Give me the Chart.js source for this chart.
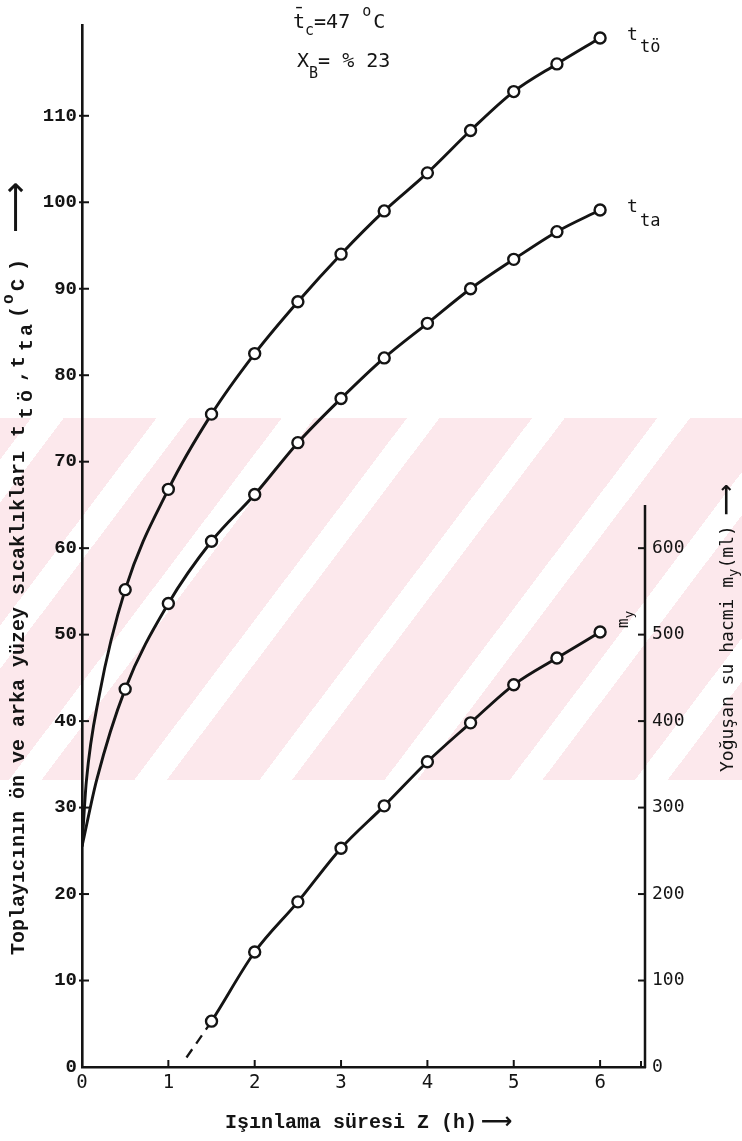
<!DOCTYPE html>
<html lang="tr">
<head>
<meta charset="utf-8">
<title>Toplayıcı yüzey sıcaklıkları ve yoğuşan su hacmi</title>
<script src="https://cdn.jsdelivr.net/npm/chart.js@4.4.1/dist/chart.umd.min.js"></script>
<style>
  html, body { margin: 0; padding: 0; background: #fff; }
  #wrap { position: relative; width: 742px; height: 1141px; overflow: hidden; }
  /* tez merkezi filigranı (soluk pembe şerit) */
  #filigran {
    position: absolute; left: 0; top: 418px; width: 742px; height: 362px;
    background: repeating-linear-gradient(127deg, #fce8ec 0 25px, #ffffff 25px 51px, #fce8ec 51px 100px);
  }
  #grafik { position: absolute; left: 0; top: 0; }
</style>
</head>
<body>
<div id="wrap">
  <div id="filigran"></div>
  <canvas id="grafik" width="742" height="1141"></canvas>
</div>
<script>
const saatler = [0.5, 1, 1.5, 2, 2.5, 3, 3.5, 4, 4.5, 5, 5.5, 6];
const tOn = [55.2, 66.8, 75.5, 82.5, 88.5, 94.0, 99.0, 103.4, 108.3, 112.8, 116.0, 119.0];
const tArka = [43.7, 53.6, 60.8, 66.2, 72.2, 77.3, 82.0, 86.0, 90.0, 93.4, 96.6, 99.1];

// eğrilerin işaretsiz başlangıç kısmı (eksenden çıkış)
const tOnBasSaat = [0, 0.05, 0.2];
const tOnBas = [25.5, 33, 43];
const tArkaBasSaat = [0, 0.17];
const tArkaBas = [25.5, 33.2];

// yoğuşan su hacmi (ml), kesikli başlangıç
const suSaatler = [1.5, 2, 2.5, 3, 3.5, 4, 4.5, 5, 5.5, 6];
const suHacmi = [53, 133, 191, 253, 302, 353, 398, 442, 473, 503];
const suBasSaat = [1.21];
const suBas = [11];

// eksenler
const xTicks = [0, 1, 2, 3, 4, 5, 6];
const yTicks = [0, 10, 20, 30, 40, 50, 60, 70, 80, 90, 100, 110];
const y2Ticks = [0, 100, 200, 300, 400, 500, 600];
const xMax = 6.52;
const yMax = 120.5;
const y2Max = 1205;
const y2EksenUst = 650;

const SIYAH = '#141414';
const F_BASLIK = 'bold 20px "Liberation Mono", monospace';
const F_BASLIK_UST = 'bold 16px "Liberation Mono", monospace';
const F_NOT = '20px "DejaVu Sans Mono", monospace';
const F_NOT_ALT = '15px "DejaVu Sans Mono", monospace';
const F_OK = 'bold 22px "DejaVu Sans", sans-serif';

function noktalar(xs, ys) {
    return xs.map((h, i) => ({ x: h, y: ys[i] }));
}

// alt/üst simgeli yazı; "at" verilirse parça o uzaklıktan başlar
function zenginYazi(ctx, x, y, aci, parcalar) {
    ctx.save();
    ctx.translate(x, y);
    ctx.rotate(aci);
    ctx.textAlign = 'left';
    ctx.textBaseline = 'alphabetic';
    let cx = 0;
    parcalar.forEach(p => {
        ctx.font = p.font;
        if (p.at !== undefined) cx = p.at;
        cx += p.once || 0;
        ctx.fillText(p.t, cx, p.dy || 0);
        cx += ctx.measureText(p.t).width + (p.ara || 0);
    });
    ctx.restore();
}

const yaziEklentisi = {
    id: 'yazilar',
    afterDraw(chart) {
        const { ctx, chartArea: a } = chart;
        const { x, y, y2 } = chart.scales;
        ctx.save();
        ctx.fillStyle = SIYAH;
        ctx.strokeStyle = SIYAH;

        // sağ eksen çizgisi (sadece 0 - 650 ml)
        ctx.lineWidth = 2.5;
        ctx.beginPath();
        ctx.moveTo(a.right, y2.getPixelForValue(0) + 1);
        ctx.lineTo(a.right, y2.getPixelForValue(y2EksenUst));
        ctx.stroke();

        // içe dönük çentikler
        ctx.lineWidth = 2;
        yTicks.forEach(v => {
            if (v === 0) return;
            const py = y.getPixelForValue(v);
            ctx.beginPath(); ctx.moveTo(a.left - 3, py); ctx.lineTo(a.left + 7, py); ctx.stroke();
        });
        xTicks.forEach(v => {
            if (v === 0) return;
            const px = x.getPixelForValue(v);
            ctx.beginPath(); ctx.moveTo(px, a.bottom); ctx.lineTo(px, a.bottom - 7); ctx.stroke();
        });
        y2Ticks.forEach(v => {
            if (v === 0) return;
            const py = y2.getPixelForValue(v);
            ctx.beginPath(); ctx.moveTo(a.right - 7, py); ctx.lineTo(a.right, py); ctx.stroke();
        });
        ctx.beginPath(); ctx.moveTo(a.right - 4, a.bottom - 6); ctx.lineTo(a.right - 4, a.bottom); ctx.stroke();

        // sol eksen başlığı
        zenginYazi(ctx, 24, 955, -Math.PI / 2, [
            { t: 'Toplayıcının ön ve arka yüzey sıcaklıkları', font: F_BASLIK },
            { t: 't', font: F_BASLIK, at: 518 },
            { t: 't', font: F_BASLIK, dy: 8, at: 536 },
            { t: 'ö', font: F_BASLIK, dy: 8, at: 553 },
            { t: ',', font: F_BASLIK, at: 573 },
            { t: 't', font: F_BASLIK, at: 587 },
            { t: 't', font: F_BASLIK, dy: 8, at: 604 },
            { t: 'a', font: F_BASLIK, dy: 8, at: 619 },
            { t: '(', font: F_BASLIK, at: 637 },
            { t: 'o', font: F_BASLIK_UST, dy: -11, at: 651 },
            { t: 'C', font: F_BASLIK, at: 664 },
            { t: ')', font: F_BASLIK, at: 684 },
            { t: '⟶', font: '36px "DejaVu Sans", sans-serif', at: 722, dy: 3 }
        ]);

        // sağ eksen başlığı
        zenginYazi(ctx, 733, 772, -Math.PI / 2, [
            { t: 'Yoğuşan su hacmi m', font: '18px "DejaVu Sans Mono", monospace' },
            { t: 'y', font: '14px "DejaVu Sans Mono", monospace', dy: 5 },
            { t: '(ml)', font: '18px "DejaVu Sans Mono", monospace' },
            { t: '⟶', font: F_OK, once: 10 }
        ]);

        // alt eksen başlığı
        zenginYazi(ctx, 225, 1128, 0, [
            { t: 'Işınlama süresi Z (h)', font: F_BASLIK },
            { t: '⟶', font: F_OK, once: 4 }
        ]);

        // koşullar
        zenginYazi(ctx, 293, 28, 0, [
            { t: 't', font: F_NOT },
            { t: 'c', font: F_NOT_ALT, dy: 7 },
            { t: '=47 ', font: F_NOT },
            { t: 'o', font: F_NOT_ALT, dy: -12, ara: 2 },
            { t: 'C', font: F_NOT }
        ]);
        ctx.font = F_NOT;
        ctx.fillText('¯', 293, 22);
        zenginYazi(ctx, 297, 67, 0, [
            { t: 'X', font: F_NOT },
            { t: 'B', font: F_NOT_ALT, dy: 11 },
            { t: '= % 23', font: F_NOT }
        ]);

        // eğri etiketleri (son noktaya göre)
        const son = saatler.length - 1;
        const pOnX = x.getPixelForValue(saatler[son]);
        const pOnY = y.getPixelForValue(tOn[son]);
        zenginYazi(ctx, pOnX + 27, pOnY + 2, 0, [
            { t: 't', font: '18px "DejaVu Sans Mono", monospace', ara: 2 },
            { t: 'tö', font: '17px "DejaVu Sans Mono", monospace', dy: 12 }
        ]);
        const pArY = y.getPixelForValue(tArka[son]);
        zenginYazi(ctx, pOnX + 27, pArY + 2, 0, [
            { t: 't', font: '18px "DejaVu Sans Mono", monospace', ara: 2 },
            { t: 'ta', font: '17px "DejaVu Sans Mono", monospace', dy: 14 }
        ]);
        const sSon = suSaatler.length - 1;
        const pSuX = x.getPixelForValue(suSaatler[sSon]);
        const pSuY = y2.getPixelForValue(suHacmi[sSon]);
        zenginYazi(ctx, pSuX + 28, pSuY - 4, -Math.PI / 2, [
            { t: 'm', font: '16px "DejaVu Sans Mono", monospace' },
            { t: 'y', font: '13px "DejaVu Sans Mono", monospace', dy: 5 }
        ]);

        ctx.restore();
    }
};

const cizgi = {
    borderColor: SIYAH,
    borderWidth: 2.9,
    backgroundColor: '#fff',
    pointBackgroundColor: '#fff',
    pointBorderColor: SIYAH,
    pointBorderWidth: 2.4,
    pointHoverRadius: 5,
    cubicInterpolationMode: 'monotone',
    fill: false
};

new Chart(document.getElementById('grafik'), {
    type: 'line',
    data: {
        datasets: [
            Object.assign({}, cizgi, {
                label: 'ttö',
                yAxisID: 'y',
                data: noktalar(tOnBasSaat, tOnBas).concat(noktalar(saatler, tOn)),
                pointRadius: c => c.dataIndex < tOnBasSaat.length ? 0 : 5.5
            }),
            Object.assign({}, cizgi, {
                label: 'tta',
                yAxisID: 'y',
                data: noktalar(tArkaBasSaat, tArkaBas).concat(noktalar(saatler, tArka)),
                pointRadius: c => c.dataIndex < tArkaBasSaat.length ? 0 : 5.5
            }),
            Object.assign({}, cizgi, {
                label: 'my',
                yAxisID: 'y2',
                data: noktalar(suBasSaat, suBas).concat(noktalar(suSaatler, suHacmi)),
                pointRadius: c => c.dataIndex < suBasSaat.length ? 0 : 5.5,
                segment: {
                    borderDash: c => c.p0DataIndex < suBasSaat.length ? [10, 7] : undefined,
                    borderWidth: c => c.p0DataIndex < suBasSaat.length ? 2.3 : undefined
                }
            })
        ]
    },
    options: {
        responsive: false,
        animation: false,
        devicePixelRatio: 1,
        layout: { padding: { top: 25, left: 0, right: 0, bottom: 0 } },
        plugins: {
            legend: { display: false },
            tooltip: { enabled: false }
        },
        scales: {
            x: {
                type: 'linear',
                min: 0,
                max: xMax,
                afterBuildTicks: s => { s.ticks = xTicks.map(v => ({ value: v })); },
                afterFit: s => { s.height = 74; },
                grid: { display: false, drawTicks: false },
                border: { display: true, color: SIYAH, width: 2.6 },
                ticks: {
                    color: SIYAH,
                    padding: 5,
                    maxRotation: 0,
                    font: { family: '"DejaVu Sans Mono", monospace', size: 19 }
                }
            },
            y: {
                type: 'linear',
                position: 'left',
                min: 0,
                max: yMax,
                afterBuildTicks: s => { s.ticks = yTicks.map(v => ({ value: v })); },
                afterFit: s => { s.width = 82; },
                grid: { display: false, drawTicks: false },
                border: { display: true, color: SIYAH, width: 2.6 },
                ticks: {
                    color: SIYAH,
                    padding: 5,
                    font: { family: '"Liberation Mono", monospace', size: 19, weight: 'bold' }
                }
            },
            y2: {
                type: 'linear',
                position: 'right',
                min: 0,
                max: y2Max,
                afterBuildTicks: s => { s.ticks = y2Ticks.map(v => ({ value: v })); },
                afterFit: s => { s.width = 97; },
                grid: { display: false, drawTicks: false },
                border: { display: false },
                ticks: {
                    color: SIYAH,
                    padding: 7,
                    font: { family: '"DejaVu Sans Mono", monospace', size: 18 }
                }
            }
        }
    },
    plugins: [yaziEklentisi]
});
</script>
</body>
</html>
